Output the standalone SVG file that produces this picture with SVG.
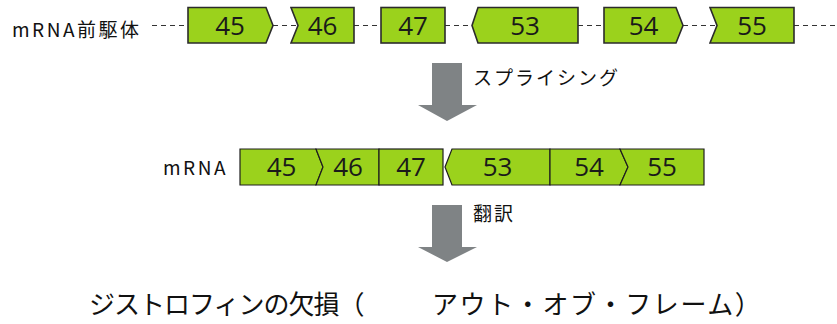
<svg xmlns="http://www.w3.org/2000/svg" width="837" height="324" viewBox="0 0 837 324">
<style>
.ex{fill:#9bd21c;stroke:#2b2b2b;stroke-width:1.6;stroke-linejoin:miter}
.ex2{fill:#9bd21c;stroke:#1e1e1e;stroke-width:1.2;stroke-linejoin:miter}
.num{font-family:"Open Sans","Noto Sans",sans-serif;font-size:26px;fill:#1a1a1a;text-anchor:middle}
.lbl{font-family:"Noto Sans CJK JP","Noto Sans",sans-serif;fill:#111}
.dash{stroke:#333;stroke-width:1;stroke-dasharray:5 4;fill:none}
.arr{fill:#7f8385}
</style>
<rect width="837" height="324" fill="#fff"/>
<g id="connectors">
<line class="dash" x1="152" y1="25.5" x2="188" y2="25.5"/>
<line class="dash" x1="273" y1="25.5" x2="297" y2="25.5"/>
<line class="dash" x1="354" y1="25.5" x2="381" y2="25.5"/>
<line class="dash" x1="445" y1="25.5" x2="472" y2="25.5"/>
<line class="dash" x1="578" y1="25.5" x2="604" y2="25.5"/>
<line class="dash" x1="683" y1="25.5" x2="716" y2="25.5"/>
<line class="dash" x1="794" y1="25.5" x2="837" y2="25.5"/>
</g>
<text id="label-pre" class="lbl" x="12" y="37" font-size="19" letter-spacing="2.5">mRNA前駆体</text>
<g id="pre-45"><polygon class="ex" points="188,7.5 266,7.5 273,25.5 266,43 188,43"/><text class="num" x="230" y="35">45</text></g>
<g id="pre-46"><polygon class="ex" points="291,7.5 354,7.5 354,43 291,43 298,25.5"/><text class="num" x="322.5" y="35">46</text></g>
<g id="pre-47"><rect class="ex" x="381" y="7.5" width="64" height="35.5"/><text class="num" x="413" y="35">47</text></g>
<g id="pre-53"><polygon class="ex" points="472,25.5 478,7.5 578,7.5 578,43 478,43"/><text class="num" x="525" y="35">53</text></g>
<g id="pre-54"><polygon class="ex" points="604,7.5 676,7.5 683,25.5 676,43 604,43"/><text class="num" x="643.5" y="35">54</text></g>
<g id="pre-55"><polygon class="ex" points="710,7.5 794,7.5 794,43 710,43 717,25.5"/><text class="num" x="752" y="35">55</text></g>
<g id="arrow-splicing"><polygon class="arr" points="432,63 462,63 462,105 477,105 447,121 418,105 432,105"/><text class="lbl" x="473" y="85" font-size="19" letter-spacing="2">スプライシング</text></g>
<text id="label-mrna" class="lbl" x="163" y="175" font-size="19" letter-spacing="2.5">mRNA</text>
<g id="m-45"><polygon class="ex2" points="240,149 316,149 323,167 316,185 240,185"/><text class="num" x="281.5" y="176">45</text></g>
<g id="m-46"><polygon class="ex2" points="316,149 379,149 379,185 316,185 323,167"/><text class="num" x="348" y="176">46</text></g>
<g id="m-47"><rect class="ex2" x="379" y="149" width="64" height="36"/><text class="num" x="411" y="176">47</text></g>
<g id="m-53"><polygon class="ex2" points="445,167 452,149 550,149 550,185 452,185"/><text class="num" x="497.5" y="176">53</text></g>
<g id="m-54"><polygon class="ex2" points="550,149 620,149 628,167 620,185 550,185"/><text class="num" x="589" y="176">54</text></g>
<g id="m-55"><polygon class="ex2" points="620,149 704,149 704,185 620,185 628,167"/><text class="num" x="662" y="176">55</text></g>
<g id="arrow-translation"><polygon class="arr" points="432,205 462,205 462,247 477,247 447,262 418,247 432,247"/><text class="lbl" x="473" y="221" font-size="19" letter-spacing="2">翻訳</text></g>
<text id="result" class="lbl" font-size="26" y="314"><tspan x="89" letter-spacing="-1">ジストロフィンの欠損（</tspan><tspan x="432" letter-spacing="1.6">アウト・オブ・フレーム）</tspan></text>
</svg>
